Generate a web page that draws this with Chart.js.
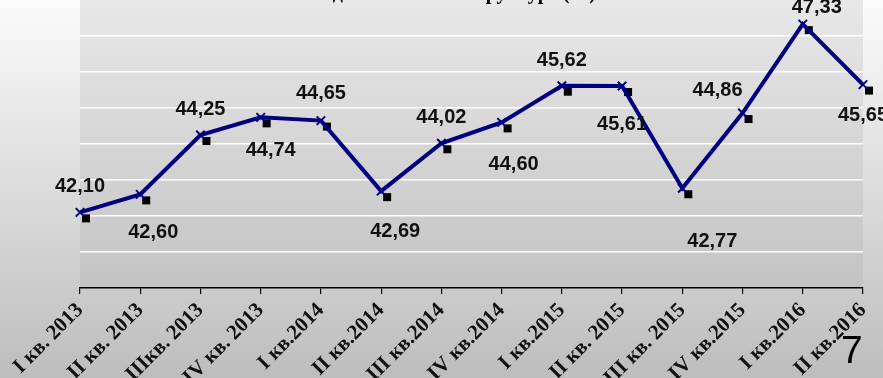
<!DOCTYPE html>
<html>
<head>
<meta charset="utf-8">
<script src="https://cdn.jsdelivr.net/npm/chart.js@4"></script>
<style>
    html, body { margin: 0; padding: 0; background: #d8d8d8; }
    canvas { display: block; }
</style>
</head>
<body>
<canvas id="lineChart" width="883" height="378"></canvas>
<script>
// ======================
// DATA
// ======================
const quarters = [
    "I кв. 2013", "II кв. 2013", "IIIкв. 2013", "IV кв. 2013",
    "I кв.2014", "II кв.2014", "III кв.2014", "IV кв.2014",
    "I кв.2015", "II кв. 2015", "III кв. 2015", "IV кв.2015",
    "I кв.2016", "II кв.2016"
];
const values = [42.10, 42.60, 44.25, 44.74, 44.65, 42.69, 44.02, 44.60, 45.62, 45.61, 42.77, 44.86, 47.33, 45.65];

// where each value label sits relative to its point (dx, dy)
const labelOffsets = [
    [0, -26], [13, 38], [0, -26], [10, 33], [0, -27], [14, 40], [0, -26],
    [12, 42], [0, -25], [0, 38], [30, 53], [-25, -23], [14, -17], [0, 31]
];

const fmt = v => v.toFixed(2).replace(".", ",");

// ======================
// BACKGROUNDS
// ======================
const backgroundPlugin = {
    id: "backgrounds",
    beforeDraw(chart) {
        const { ctx, chartArea: a, width, height } = chart;
        ctx.save();
        let g = ctx.createLinearGradient(0, 0, 0, height);
        g.addColorStop(0, "#fbfbfb");
        g.addColorStop(1, "#bdbdbd");
        ctx.fillStyle = g;
        ctx.fillRect(0, 0, width, height);

        g = ctx.createLinearGradient(0, a.top, 0, a.bottom);
        g.addColorStop(0, "#e8e8e8");
        g.addColorStop(1, "#c3c3c3");
        ctx.fillStyle = g;
        ctx.fillRect(a.left, a.top, a.right - a.left, a.bottom - a.top);

        // title, mostly cut off by the top edge
        ctx.fillStyle = "#000";
        ctx.font = "bold 20px 'Liberation Serif'";
        ctx.textAlign = "center";
        ctx.textBaseline = "alphabetic";
        ctx.fillText("Удельный вес в структуре (%)", 458, -1);
        ctx.restore();
    }
};

// ======================
// SQUARE MARKERS (shadow-like, offset)
// ======================
const squaresPlugin = {
    id: "squares",
    beforeDatasetsDraw(chart) {
        const { ctx } = chart;
        const meta = chart.getDatasetMeta(0);
        ctx.save();
        ctx.fillStyle = "#000";
        meta.data.forEach(p => {
            ctx.fillRect(p.x + 2, p.y + 2, 8, 8);
        });
        ctx.restore();
    }
};

// ======================
// VALUE LABELS + SLIDE NUMBER
// ======================
const labelsPlugin = {
    id: "valueLabels",
    afterDraw(chart) {
        const { ctx } = chart;
        const meta = chart.getDatasetMeta(0);
        ctx.save();
        ctx.fillStyle = "#111";
        ctx.font = "bold 20px 'Liberation Sans'";
        ctx.textAlign = "center";
        ctx.textBaseline = "middle";
        meta.data.forEach((p, i) => {
            const [dx, dy] = labelOffsets[i];
            ctx.fillText(fmt(values[i]), p.x + dx, p.y + dy);
        });

        ctx.font = "39px 'Liberation Sans'";
        ctx.fillStyle = "#000";
        ctx.textAlign = "left";
        ctx.textBaseline = "alphabetic";
        ctx.fillText("7", 841, 363);
        ctx.restore();
    }
};

// ======================
// RENDER LINE CHART
// ======================
const ctx = document.getElementById("lineChart");

new Chart(ctx, {
    type: "line",
    data: {
        labels: quarters,
        datasets: [{
            data: values,
            borderColor: "#000080",
            borderWidth: 4,
            pointStyle: "crossRot",
            pointRadius: 6,
            pointBorderColor: "#000080",
            pointBorderWidth: 2,
            tension: 0
        }]
    },
    options: {
        responsive: false,
        animation: false,
        devicePixelRatio: 1,
        layout: { autoPadding: false, padding: { left: 80, right: 20, top: 0, bottom: 0 } },
        plugins: {
            legend: { display: false },
            tooltip: { enabled: false }
        },
        scales: {
            x: {
                offset: false,
                grid: {
                    drawOnChartArea: false,
                    drawTicks: true,
                    tickLength: 6,
                    color: "#000",
                    lineWidth: 1.2
                },
                border: { display: true, color: "#000", width: 1.5 },
                ticks: {
                    autoSkip: false,
                    minRotation: 45,
                    maxRotation: 45,
                    padding: 4,
                    color: "#111",
                    font: { family: "'Liberation Serif'", size: 21, weight: "bold" }
                },
                afterFit(scale) {
                    scale.height = 90;
                    scale.paddingLeft = 0;
                    scale.paddingRight = 0;
                }
            },
            y: {
                min: 40,
                max: 48,
                ticks: { display: false, stepSize: 1 },
                grid: {
                    drawTicks: false,
                    lineWidth: 1.5,
                    color: c => (c.tick.value === 40 || c.tick.value === 48) ? "transparent" : "#ffffff"
                },
                border: { display: false },
                afterFit(scale) {
                    scale.width = 0;
                }
            }
        }
    },
    plugins: [backgroundPlugin, squaresPlugin, labelsPlugin]
});
</script>
</body>
</html>
